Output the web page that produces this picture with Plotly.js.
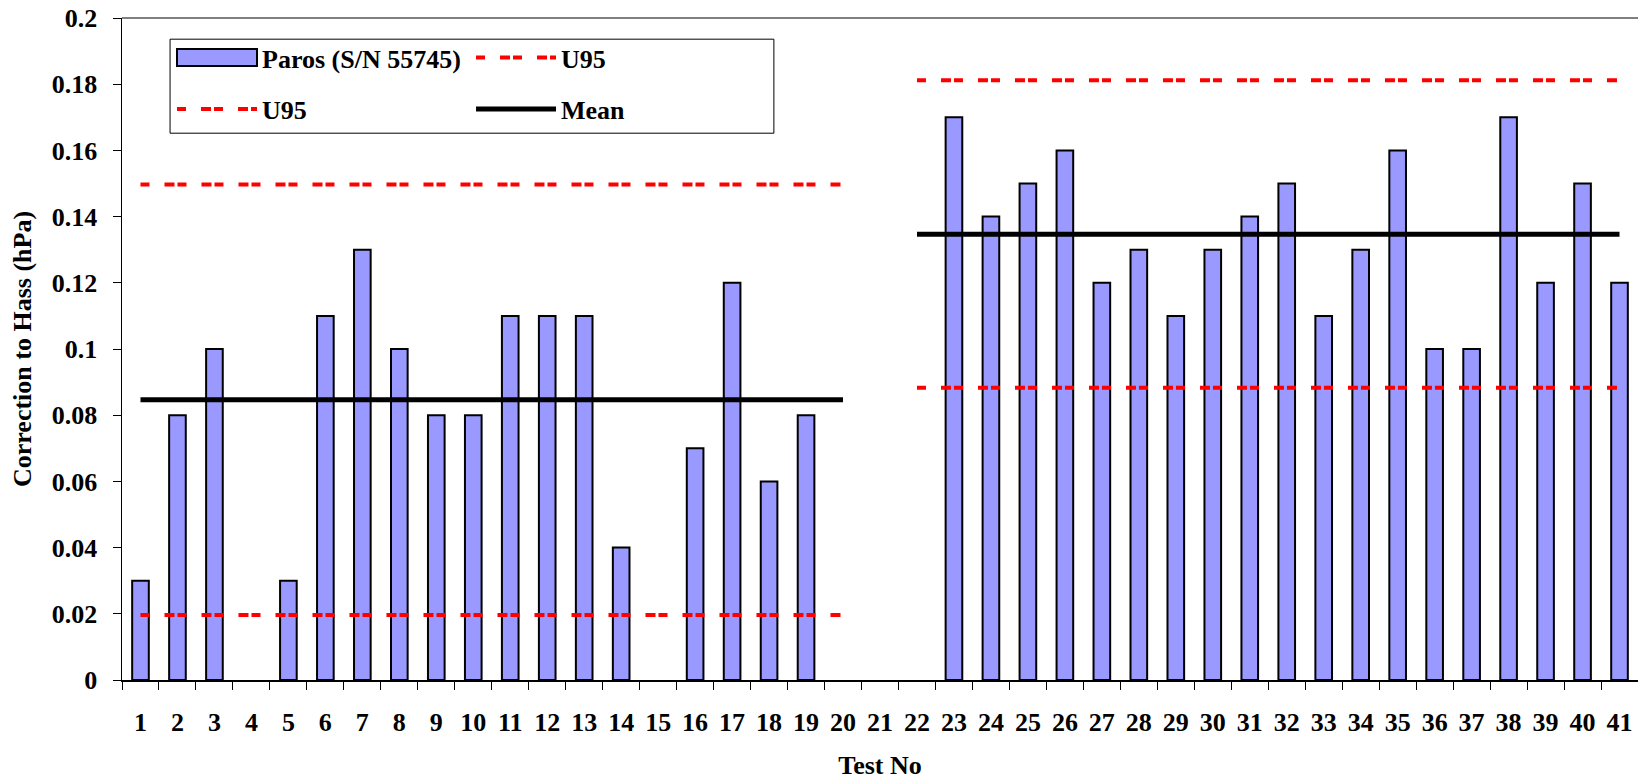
<!DOCTYPE html>
<html>
<head>
<meta charset="utf-8">
<script src="https://cdn.plot.ly/plotly-3.0.1.min.js"></script>
<style>
html,body{margin:0;padding:0;background:#ffffff;}
#chart{width:1638px;height:781px;}
</style>
</head>
<body>
<div id="chart"></div>
<script>
// ---- data ----
const testNo = ['1','2','3','4','5','6','7','8','9','10','11','12','13','14','15','16','17','18','19','20',
                '21','22','23','24','25','26','27','28','29','30','31','32','33','34','35','36','37','38','39','40','41'];
const correction = [0.03,0.08,0.10,null,0.03,0.11,0.13,0.10,0.08,0.08,0.11,0.11,0.11,0.04,null,0.07,0.12,0.06,0.08,null,
                    null,null,0.17,0.14,0.15,0.16,0.12,0.13,0.11,0.13,0.14,0.15,0.11,0.13,0.16,0.10,0.10,0.17,0.12,0.15,0.12];
const lineX = ['1','20','21','22','41'];
const meanY = [0.0847,0.0847,null,0.1347,0.1347];
const u95UpperY = [0.1497,0.1497,null,0.1812,0.1812];
const u95LowerY = [0.0196,0.0196,null,0.0883,0.0883];

const FONT = 'Liberation Serif, Times New Roman, serif';
const dashPattern = '9px,15px,10px,3px';

const traces = [
  {type:'bar', name:'Paros (S/N 55745)', x:testNo, y:correction,
   marker:{color:'#9999FF', line:{color:'#000000', width:2}}, legend:'legend'},
  {type:'scatter', mode:'lines', name:'U95', x:lineX, y:u95UpperY, connectgaps:false,
   line:{color:'#FF0000', width:4, dash:dashPattern}, legend:'legend'},
  {type:'scatter', mode:'lines', name:'U95', x:lineX, y:u95LowerY, connectgaps:false,
   line:{color:'#FF0000', width:4, dash:dashPattern}, legend:'legend2'},
  {type:'scatter', mode:'lines', name:'Mean', x:lineX, y:meanY, connectgaps:false,
   line:{color:'#000000', width:5}, legend:'legend2'}
];

const legendCommon = {
  orientation:'h', xanchor:'left', yanchor:'middle', x:0.033,
  bgcolor:'rgba(0,0,0,0)', borderwidth:0, itemwidth:80, entrywidth:204,
  font:{family:FONT, size:26, color:'#000', weight:'bold'}, traceorder:'normal'
};

const layout = {
  width:1638, height:781,
  margin:{l:122, r:0, t:18, b:101, pad:0},
  paper_bgcolor:'#ffffff', plot_bgcolor:'#ffffff',
  font:{family:FONT, size:26, color:'#000', weight:'bold'},
  bargap:0.55,
  showlegend:true,
  legend:Object.assign({}, legendCommon, {y:0.940}),
  legend2:Object.assign({}, legendCommon, {y:0.8625}),
  xaxis:{
    type:'category', categoryorder:'array', categoryarray:testNo,
    range:[-0.5,40.5],
    showline:true, linecolor:'#000', linewidth:1.5,
    ticks:'outside', tickson:'boundaries', ticklen:8, tickcolor:'#000', tickwidth:1,
    showgrid:false, zeroline:false,
    tickfont:{family:FONT, size:26, color:'#000', weight:'bold'},
    ticklabelstandoff:18,
    title:{text:'Test No', font:{family:FONT, size:26, color:'#000', weight:'bold'}, standoff:20}
  },
  yaxis:{
    range:[0,0.2], dtick:0.02, tick0:0,
    showline:true, linecolor:'#000', linewidth:1.5,
    ticks:'outside', ticklen:8, tickcolor:'#000', tickwidth:1,
    showgrid:false, zeroline:false,
    tickfont:{family:FONT, size:26, color:'#000', weight:'bold'},
    ticklabelstandoff:10,
    title:{text:'Correction to Hass (hPa)', font:{family:FONT, size:26, color:'#000', weight:'bold'}, standoff:12}
  },
  shapes:[
    {type:'line', xref:'paper', yref:'paper', x0:0, x1:1, y0:1, y1:1, line:{color:'#808080', width:2}},
    {type:'rect', xref:'paper', yref:'paper', x0:0.0317, x1:0.430, y0:0.826, y1:0.968,
     line:{color:'#000', width:1}, fillcolor:'rgba(0,0,0,0)', layer:'above'}
  ]
};

const gd = document.getElementById('chart');
Plotly.newPlot(gd, traces, layout, {displayModeBar:false, staticPlot:true}).then(function(){
  // widen the bar legend swatch to match the line swatches
  const bar = gd.querySelector('.legend path.legendbar') || gd.querySelector('.legend .legendpoints path');
  const ln = gd.querySelector('.legend path.js-line');
  if (bar && ln) {
    const bb = ln.getBBox();
    bar.setAttribute('d', 'M' + bb.x + ',8.5h' + bb.width + 'v-17h' + (-bb.width) + 'Z');
    bar.removeAttribute('transform');
  }
});
</script>
</body>
</html>
